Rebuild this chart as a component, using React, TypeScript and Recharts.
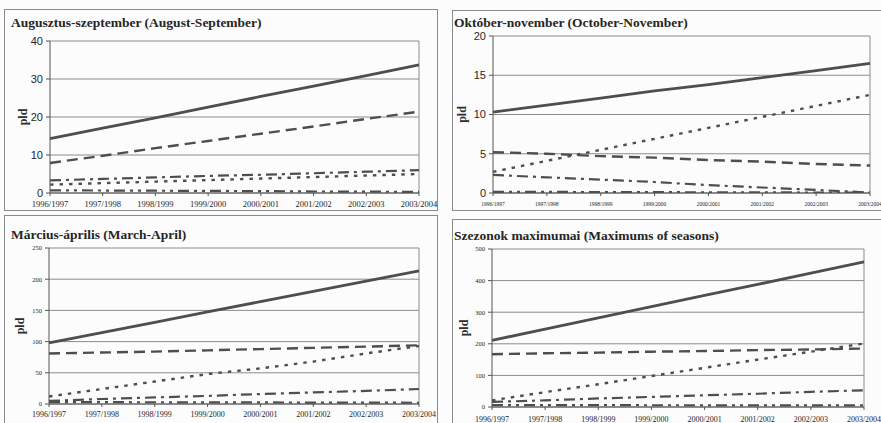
import React from 'react';
import { LineChart, Line, XAxis, YAxis, CartesianGrid, ReferenceLine } from 'recharts';

// seasons on the x axis
const seasons = ['1996/1997', '1997/1998', '1998/1999', '1999/2000', '2000/2001', '2001/2002', '2002/2003', '2003/2004'];

// Augusztus-szeptember
const augSepSolid = [14.3, 17.1, 19.8, 22.6, 25.4, 28.1, 30.9, 33.7];
const augSepDash = [7.9, 9.8, 11.8, 13.7, 15.6, 17.5, 19.5, 21.4];
const augSepDot = [2.2, 2.6, 3.0, 3.4, 3.8, 4.2, 4.6, 5.0];
const augSepDashDot = [3.3, 3.7, 4.1, 4.5, 4.8, 5.2, 5.6, 6.0];
const augSepDashDotDot = [0.7, 0.65, 0.6, 0.55, 0.5, 0.4, 0.35, 0.3];

// Október-november
const octNovSolid = [10.3, 11.2, 12.1, 13.0, 13.8, 14.7, 15.6, 16.5];
const octNovDash = [5.2, 5.0, 4.7, 4.5, 4.2, 4.0, 3.7, 3.5];
const octNovDot = [2.7, 4.1, 5.5, 6.9, 8.3, 9.7, 11.1, 12.5];
const octNovDashDot = [2.3, 2.0, 1.7, 1.4, 1.0, 0.7, 0.4, 0.05];
const octNovDashDotDot = [0.15, 0.14, 0.12, 0.11, 0.09, 0.08, 0.06, 0.05];

// Március-április
const marAprSolid = [98, 114.5, 131, 147.5, 164, 180.5, 197, 213.5];
const marAprDash = [81, 82.5, 84, 86, 88, 90, 92, 94];
const marAprDot = [12, 24, 36, 48, 57, 68, 81, 93];
const marAprDashDot = [5, 8, 10.5, 13, 16, 18.5, 21, 24];
const marAprDashDotDot = [3, 2.9, 2.8, 2.6, 2.5, 2.3, 2.2, 2];

// Szezonok maximumai
const maxSolid = [211, 246.5, 282, 317.5, 353, 388, 424, 459];
const maxDash = [167, 170, 172, 175, 177, 180, 182, 185];
const maxDot = [21, 47, 72, 98, 124, 150, 175, 201];
const maxDashDot = [16, 21, 27, 32, 37, 42, 48, 53];
const maxDashDotDot = [6, 5.9, 5.7, 5.6, 5.4, 5.3, 5.1, 5];

const augSepTicks = [0, 10, 20, 30, 40];
const octNovTicks = [0, 5, 10, 15, 20];
const marAprTicks = [0, 50, 100, 150, 200, 250];
const maxTicks = [0, 100, 200, 300, 400, 500];

const buildRows = (solid: number[], dash: number[], dot: number[], dashDot: number[], dashDotDot: number[]) =>
  seasons.map((season, i) => ({
    season,
    solid: solid[i],
    dash: dash[i],
    dot: dot[i],
    dashDot: dashDot[i],
    dashDotDot: dashDotDot[i],
  }));

const seriesStyles = [
  { key: 'dashDotDot', dash: '11 5 3 5 3 5', width: 2.2 },
  { key: 'dashDot', dash: '11 5 3 5', width: 2.2 },
  { key: 'dot', dash: '3.5 6', width: 2.4 },
  { key: 'dash', dash: '11 6', width: 2.4 },
  { key: 'solid', dash: undefined, width: 2.8 },
];

const INK = '#4e4e4e';
const GRID = '#8c8c8c';
const SERIF = '"Liberation Serif", "Times New Roman", serif';
const SANS = '"Liberation Sans", Arial, sans-serif';

interface PanelProps {
  title: string;
  rows: ReturnType<typeof buildRows>;
  ticks: number[];
  box: { left: number; top: number; width: number; height: number };
  margin: { top: number; right: number; bottom: number };
  yWidth: number;
  xHeight: number;
  xGap: number;
  titlePos: { left: number; top: number };
  yFont: { size: number; family: string };
  xFont: number;
  labelDx: number;
}

const Panel: React.FC<PanelProps> = ({ title, rows, ticks, box, margin, yWidth, xHeight, xGap, titlePos, yFont, xFont, labelDx }) => {
  const innerW = box.width - 2;
  const innerH = box.height - 2;
  return (
    <div
      style={{
        position: 'absolute',
        left: box.left,
        top: box.top,
        width: innerW,
        height: innerH,
        border: '1px solid #8a8a8a',
      }}
    >
      <div
        style={{
          position: 'absolute',
          left: titlePos.left,
          top: titlePos.top,
          fontFamily: SERIF,
          fontWeight: 'bold',
          fontSize: 13.5,
          lineHeight: '15px',
          color: '#262626',
          whiteSpace: 'nowrap',
        }}
      >
        {title}
      </div>
      <LineChart
        width={innerW}
        height={innerH}
        data={rows}
        margin={{ top: margin.top, right: margin.right, bottom: margin.bottom, left: 0 }}
      >
        <CartesianGrid vertical={false} stroke={GRID} strokeWidth={1} />
        <XAxis
          dataKey="season"
          height={xHeight}
          interval={0}
          tickSize={3}
          tickMargin={xGap}
          stroke="#555"
          tick={{ fontFamily: SERIF, fontSize: xFont, fill: '#262626' }}
        />
        <YAxis
          width={yWidth}
          domain={[ticks[0], ticks[ticks.length - 1]]}
          ticks={ticks}
          interval={0}
          tickSize={4}
          tickMargin={3}
          stroke="#555"
          allowDataOverflow
          tick={{ fontFamily: yFont.family, fontSize: yFont.size, fill: '#262626' }}
          label={{
            value: 'pld',
            angle: -90,
            position: 'center',
            dx: labelDx,
            style: { fontFamily: SERIF, fontSize: 12, fill: '#2e2e2e', fontWeight: 'bold' },
          }}
        />
        <ReferenceLine x={seasons[seasons.length - 1]} stroke={GRID} strokeWidth={1} />
        {seriesStyles.map(s => (
          <Line
            key={s.key}
            dataKey={s.key}
            type="linear"
            stroke={INK}
            strokeWidth={s.width}
            strokeDasharray={s.dash}
            dot={false}
            activeDot={false}
            isAnimationActive={false}
          />
        ))}
      </LineChart>
    </div>
  );
};

export default function App() {
  return (
    <div
      style={{
        position: 'fixed',
        left: 0,
        top: 0,
        width: 881,
        height: 423,
        overflow: 'hidden',
        background: '#fcfcfc',
      }}
    >
      <Panel
        title="Augusztus-szeptember (August-September)"
        rows={buildRows(augSepSolid, augSepDash, augSepDot, augSepDashDot, augSepDashDotDot)}
        ticks={augSepTicks}
        box={{ left: 4, top: 9, width: 434, height: 202 }}
        margin={{ top: 31, right: 18, bottom: 1 }}
        yWidth={45}
        xHeight={16}
        xGap={5}
        titlePos={{ left: 6, top: 5 }}
        yFont={{ size: 11, family: SANS }}
        xFont={8.5}
        labelDx={-5}
      />
      <Panel
        title="Október-november (October-November)"
        rows={buildRows(octNovSolid, octNovDash, octNovDot, octNovDashDot, octNovDashDotDot)}
        ticks={octNovTicks}
        box={{ left: 452, top: 10, width: 434, height: 201 }}
        margin={{ top: 25, right: 15, bottom: 1 }}
        yWidth={40}
        xHeight={16}
        xGap={6}
        titlePos={{ left: 1, top: 4 }}
        yFont={{ size: 11, family: SANS }}
        xFont={5.5}
        labelDx={-11}
      />
      <Panel
        title="Március-április (March-April)"
        rows={buildRows(marAprSolid, marAprDash, marAprDot, marAprDashDot, marAprDashDotDot)}
        ticks={marAprTicks}
        box={{ left: 4, top: 215, width: 434, height: 212 }}
        margin={{ top: 32, right: 18, bottom: 6 }}
        yWidth={44}
        xHeight={16}
        xGap={4}
        titlePos={{ left: 6, top: 11 }}
        yFont={{ size: 6.5, family: SERIF }}
        xFont={8}
        labelDx={-7}
      />
      <Panel
        title="Szezonok maximumai (Maximums of seasons)"
        rows={buildRows(maxSolid, maxDash, maxDot, maxDashDot, maxDashDotDot)}
        ticks={maxTicks}
        box={{ left: 452, top: 219, width: 434, height: 208 }}
        margin={{ top: 29, right: 21, bottom: 3 }}
        yWidth={39}
        xHeight={16}
        xGap={6}
        titlePos={{ left: 1, top: 8 }}
        yFont={{ size: 6.5, family: SERIF }}
        xFont={8}
        labelDx={-9}
      />
    </div>
  );
}
